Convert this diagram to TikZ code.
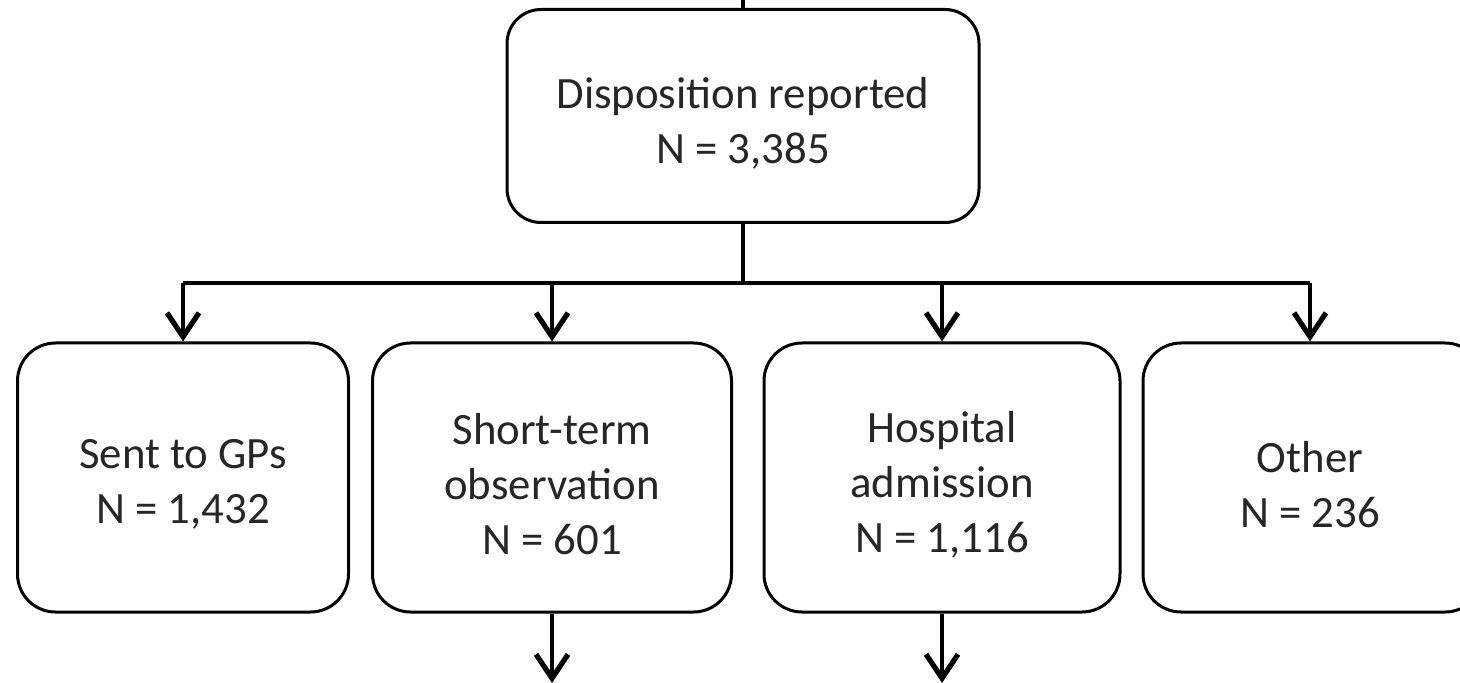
\documentclass[tikz,border=0pt]{standalone}
\usepackage{fontspec}
\setmainfont{Carlito}
\usetikzlibrary{arrows.meta,calc}
\begin{document}
\begin{tikzpicture}[x=0.5pt,y=-0.5pt,
  box/.style={draw, line width=1.5pt, rounded corners=19pt, inner sep=0pt},
  topbox/.style={box, rounded corners=17pt, minimum width=236pt, minimum height=106.5pt},
  lowbox/.style={box, minimum height=134.5pt},
  txt/.style={align=center, inner sep=0pt, yshift=-3.5pt,
    font=\fontsize{22.4}{27.5}\selectfont, text=black!85},
  conn/.style={line width=1.6pt},
  arr/.style={conn, -{Straight Barb[length=12pt,width=16pt,line width=2.6pt]}}
]
\useasboundingbox (0,0) rectangle (1460,683);
\clip (0,0) rectangle (1460,683);

\node[topbox] (top) at (743,116) {};
\node[lowbox, minimum width=165.5pt] (b1) at (183,477.5) {};
\node[lowbox, minimum width=179.5pt] (b2) at (552,477.5) {};
\node[lowbox, minimum width=178pt] (b3) at (942,477.5) {};
\node[lowbox, minimum width=170pt] (b4) at (1313,477.5) {};

\node[txt] (ttop) at (top.center) {Disposition reported\\N = 3,385};
\node[txt] (t1) at (b1.center) {Sent to GPs\\N = 1,432};
\node[txt] (t2) at (b2.center) {Short-term\\observation\\N = 601};
\node[txt] (t3) at (b3.center) {Hospital\\admission\\N = 1,116};
\node[txt] (t4) at ($(b4.center)+(-3,0)$) {Other\\N = 236};

\coordinate (in) at (743,0);
\coordinate (bus) at (743,283);
\coordinate (busL) at (183,283);
\coordinate (busR) at (1310,283);
\coordinate (out2) at (552,683);
\coordinate (out3) at (942,683);

\draw[conn] (in) -- (top.north);
\draw[conn] (top.south) -- (bus);
\draw[conn] (busL) -- (busR);
\draw[arr] (busL) -- (b1.north);
\draw[arr] (b2.north |- bus) -- (b2.north);
\draw[arr] (b3.north |- bus) -- (b3.north);
\draw[arr] (busR) -- (busR |- b4.north);
\draw[arr] (b2.south) -- (out2);
\draw[arr] (b3.south) -- (out3);
\end{tikzpicture}
\end{document}
